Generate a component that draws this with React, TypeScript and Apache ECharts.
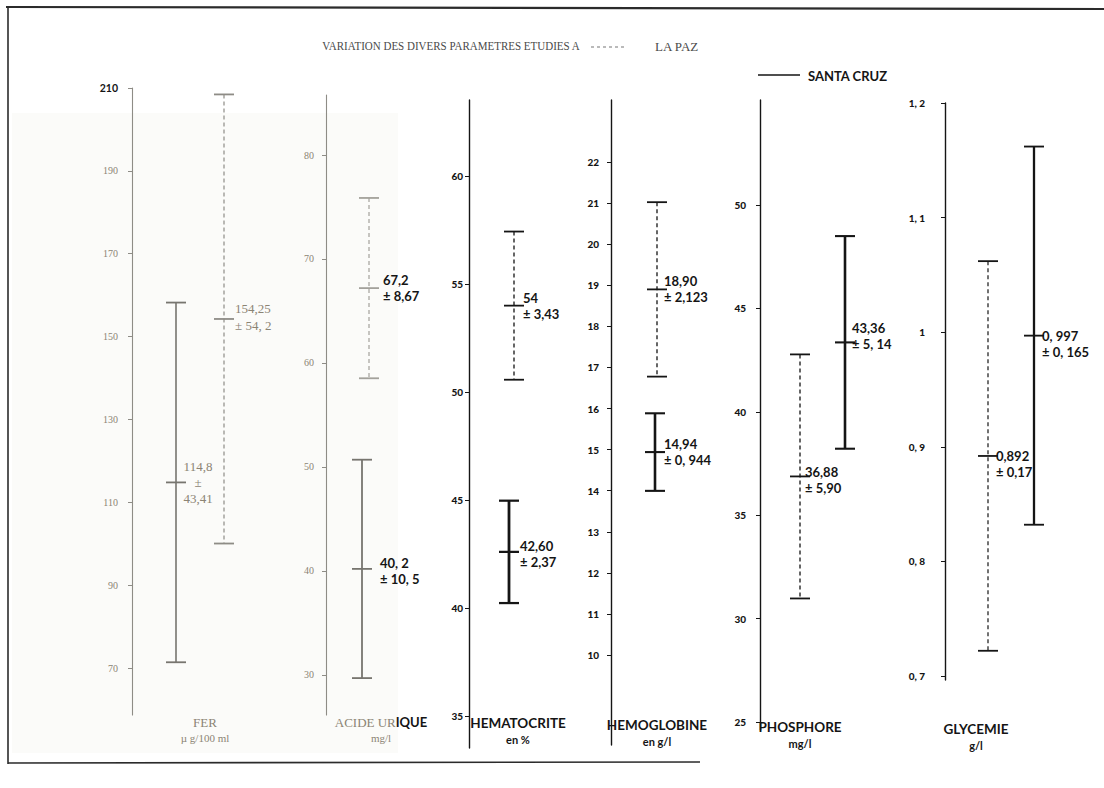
import React, { useEffect, useRef } from "react";
import * as echarts from "echarts";

// ---------- DATA ----------
const parameters = ["FER", "ACIDE URIQUE", "HEMATOCRITE", "HEMOGLOBINE", "PHOSPHORE", "GLYCEMIE"];
const unitsText = ["µ g/100 ml", "mg/l", "en %", "en g/l", "mg/l", "g/l"];
const laPazMean = [154.25, 67.2, 54, 18.9, 36.88, 0.892];
const laPazSD = [54.2, 8.67, 3.43, 2.123, 5.9, 0.17];
const santaCruzMean = [114.8, 40.2, 42.6, 14.94, 43.36, 0.997];
const santaCruzSD = [43.41, 10.5, 2.37, 0.944, 5.14, 0.165];
const laPazLabels = ["154,25\n± 54, 2", "67,2\n± 8,67", "54\n± 3,43", "18,90\n± 2,123", "36,88\n± 5,90", "0,892\n± 0,17"];
const santaCruzLabels = ["114,8\n±\n43,41", "40, 2\n± 10, 5", "42,60\n± 2,37", "14,94\n± 0, 944", "43,36\n± 5, 14", "0, 997\n± 0, 165"];
const tickValues = [
  [70, 90, 110, 130, 150, 170, 190, 210],
  [30, 40, 50, 60, 70, 80],
  [35, 40, 45, 50, 55, 60],
  [10, 11, 12, 13, 14, 15, 16, 17, 18, 19, 20, 21, 22],
  [25, 30, 35, 40, 45, 50],
  [0.7, 0.8, 0.9, 1.0, 1.1, 1.2],
];
const tickLabels = [
  ["70", "90", "110", "130", "150", "170", "190", "210"],
  ["30", "40", "50", "60", "70", "80"],
  ["35", "40", "45", "50", "55", "60"],
  ["10", "11", "12", "13", "14", "15", "16", "17", "18", "19", "20", "21", "22"],
  ["25", "30", "35", "40", "45", "50"],
  ["0, 7", "0, 8", "0, 9", "1", "1, 1", "1, 2"],
];
const titleText = "VARIATION DES DIVERS PARAMETRES ETUDIES A";
const legendNames = ["LA PAZ", "SANTA CRUZ"];

// ---------- LAYOUT / STYLE ----------
const GREY_TEXT = "#8b8474";
const GREY_LINE = "#8e8c86";
const BLACK = "#151515";
const SERIF = "'Liberation Serif', 'DejaVu Serif', serif";
const SANS = "Lato, 'Liberation Sans', sans-serif";

type Lab = { dx: number; dy: number; align: string; color: string; font: string; size: number; weight: string; lh: number };
type Panel = {
  axisX: number; top: number; bottom: number; min: number; max: number;
  lpX: number; scX: number; faded: boolean; margin: number;
  axisColor: string; lpColor: string; scColor: string; lpWidth: number; scWidth: number; cap: number;
  lpLab: Lab; scLab: Lab;
  titleX: number; titleY: number;
};

const blackLab = (dx: number, dy: number): Lab => ({ dx, dy, align: "left", color: BLACK, font: SANS, size: 13, weight: "bold", lh: 16 });

const panelsLayout: Panel[] = [
  {
    axisX: 132, top: 88, bottom: 715, min: 58.66, max: 210, lpX: 92, scX: 44, faded: true, margin: 14,
    axisColor: GREY_LINE, lpColor: GREY_LINE, scColor: "#77756f", lpWidth: 1.2, scWidth: 1.6, cap: 10,
    lpLab: { dx: 11, dy: -2, align: "left", color: GREY_TEXT, font: SERIF, size: 13, weight: "normal", lh: 17 },
    scLab: { dx: 22, dy: 0, align: "center", color: GREY_TEXT, font: SERIF, size: 13, weight: "normal", lh: 16 },
    titleX: 205, titleY: 722,
  },
  {
    axisX: 326, top: 95, bottom: 715, min: 26.15, max: 85.77, lpX: 43, scX: 36, faded: true, margin: 12,
    axisColor: GREY_LINE, lpColor: "#a3a19b", scColor: "#77756f", lpWidth: 1.2, scWidth: 1.8, cap: 10,
    lpLab: blackLab(14, 0), scLab: blackLab(18, 2),
    titleX: 381, titleY: 722,
  },
  {
    axisX: 469, top: 100, bottom: 748, min: 33.52, max: 63.52, lpX: 45, scX: 40, faded: false, margin: 6,
    axisColor: BLACK, lpColor: BLACK, scColor: BLACK, lpWidth: 1.3, scWidth: 2.8, cap: 10,
    lpLab: blackLab(9, 0), scLab: blackLab(11, 2),
    titleX: 518, titleY: 723,
  },
  {
    axisX: 611, top: 100, bottom: 745, min: 7.81, max: 23.51, lpX: 46, scX: 44, faded: false, margin: 12,
    axisColor: BLACK, lpColor: BLACK, scColor: BLACK, lpWidth: 1.3, scWidth: 2.6, cap: 10,
    lpLab: blackLab(7, 0), scLab: blackLab(9, 0),
    titleX: 657, titleY: 725,
  },
  {
    axisX: 760, top: 100, bottom: 730, min: 24.62, max: 55.08, lpX: 40, scX: 85, faded: false, margin: 14,
    axisColor: BLACK, lpColor: BLACK, scColor: BLACK, lpWidth: 1.3, scWidth: 2.6, cap: 10,
    lpLab: blackLab(5, 4), scLab: blackLab(7, -6),
    titleX: 800, titleY: 727,
  },
  {
    axisX: 945, top: 103, bottom: 680, min: 0.6965, max: 1.2, lpX: 43, scX: 89, faded: false, margin: 20,
    axisColor: BLACK, lpColor: BLACK, scColor: BLACK, lpWidth: 1.2, scWidth: 2.3, cap: 10,
    lpLab: blackLab(8, 8), scLab: blackLab(8, 8),
    titleX: 976, titleY: 729,
  },
];

function findLabel(i: number, v: number): string {
  const vals = tickValues[i];
  for (let k = 0; k < vals.length; k++) {
    if (Math.abs(vals[k] - v) < 1e-6) return tickLabels[i][k];
  }
  return "";
}

function makeRenderItem(p: Panel, isLaPaz: boolean, label: string) {
  return (params: any, api: any) => {
    const x = api.value(0);
    const m = api.value(1);
    const s = api.value(2);
    const top = api.coord([x, m + s]);
    const mid = api.coord([x, m]);
    const bot = api.coord([x, m - s]);
    const color = isLaPaz ? p.lpColor : p.scColor;
    const w = isLaPaz ? p.lpWidth : p.scWidth;
    const lineStyle: any = { stroke: color, lineWidth: w, lineDash: isLaPaz ? [4, 3] : null };
    const capStyle: any = { stroke: color, lineWidth: isLaPaz ? 1.8 : Math.max(1.8, w * 0.8) };
    const lab = isLaPaz ? p.lpLab : p.scLab;
    return {
      type: "group",
      children: [
        { type: "line", shape: { x1: top[0], y1: top[1], x2: bot[0], y2: bot[1] }, style: lineStyle },
        { type: "line", shape: { x1: top[0] - p.cap, y1: top[1], x2: top[0] + p.cap, y2: top[1] }, style: capStyle },
        { type: "line", shape: { x1: bot[0] - p.cap, y1: bot[1], x2: bot[0] + p.cap, y2: bot[1] }, style: capStyle },
        { type: "line", shape: { x1: mid[0] - p.cap, y1: mid[1], x2: mid[0] + p.cap, y2: mid[1] }, style: capStyle },
        {
          type: "text",
          x: mid[0] + lab.dx,
          y: mid[1] + lab.dy,
          style: {
            text: label,
            fill: lab.color,
            fontFamily: lab.font,
            fontSize: lab.size,
            fontWeight: lab.weight,
            lineHeight: lab.lh,
            align: lab.align,
            verticalAlign: "middle",
          },
        },
      ],
    };
  };
}

function buildOption() {
  const grid: any[] = [];
  const xAxis: any[] = [];
  const yAxis: any[] = [];
  const series: any[] = [];
  const graphic: any[] = [];

  // faded photocopy patch
  graphic.push({ type: "rect", z: -10, shape: { x: 12, y: 113, width: 386, height: 640 }, style: { fill: "#fbfbf9" } });

  panelsLayout.forEach((p, i) => {
    grid.push({ left: p.axisX, top: p.top, width: 140, height: p.bottom - p.top });
    xAxis.push({ type: "value", gridIndex: i, min: 0, max: 140, show: false });
    const labelColor = p.faded ? GREY_TEXT : BLACK;
    yAxis.push({
      type: "value",
      gridIndex: i,
      min: p.min,
      max: p.max,
      position: "left",
      splitLine: { show: false },
      axisLine: { show: true, lineStyle: { color: p.axisColor, width: p.faded ? 1.1 : 1.4 } },
      axisTick: { show: true, customValues: tickValues[i], length: 4, lineStyle: { color: p.axisColor, width: 1 } },
      axisLabel: {
        customValues: tickValues[i],
        margin: p.margin,
        formatter: (v: number) => {
          const s = findLabel(i, v);
          if (i === 0 && Math.abs(v - 210) < 1e-6) return "{b|" + s + "}";
          return "{n|" + s + "}";
        },
        rich: {
          b: { color: BLACK, fontFamily: SANS, fontWeight: "bold", fontSize: 10.5 },
          n: {
            color: labelColor,
            fontFamily: p.faded ? SERIF : SANS,
            fontWeight: p.faded ? "normal" : "900",
            fontSize: p.faded ? 10 : 10,
          },
        },
      },
    });
    series.push({
      type: "custom",
      name: legendNames[0],
      xAxisIndex: i,
      yAxisIndex: i,
      data: [[p.lpX, laPazMean[i], laPazSD[i]]],
      renderItem: makeRenderItem(p, true, laPazLabels[i]),
      silent: true,
    });
    series.push({
      type: "custom",
      name: legendNames[1],
      xAxisIndex: i,
      yAxisIndex: i,
      data: [[p.scX, santaCruzMean[i], santaCruzSD[i]]],
      renderItem: makeRenderItem(p, false, santaCruzLabels[i]),
      silent: true,
    });

    // panel titles
    let titleStyle: any;
    if (i === 0) {
      titleStyle = { text: parameters[i], fill: GREY_TEXT, fontFamily: SERIF, fontSize: 13 };
    } else if (i === 1) {
      titleStyle = {
        text: "{g|ACIDE UR}{b|IQUE}",
        rich: {
          g: { fill: GREY_TEXT, fontFamily: SERIF, fontSize: 13, color: GREY_TEXT },
          b: { fill: BLACK, fontFamily: SANS, fontSize: 13, fontWeight: "bold", color: BLACK },
        },
      };
    } else {
      titleStyle = { text: parameters[i], fill: BLACK, fontFamily: SANS, fontSize: 13.5, fontWeight: "bold" };
    }
    graphic.push({
      type: "text",
      x: p.titleX,
      y: p.titleY,
      style: { ...titleStyle, align: "center", verticalAlign: "middle" },
    });
    graphic.push({
      type: "text",
      x: p.titleX,
      y: p.titleY + 16,
      style: {
        text: unitsText[i],
        fill: p.faded ? GREY_TEXT : BLACK,
        fontFamily: p.faded ? SERIF : SANS,
        fontWeight: p.faded ? "normal" : "bold",
        fontSize: 11,
        align: "center",
        verticalAlign: "middle",
      },
    });
  });

  // frame
  graphic.push({ type: "line", shape: { x1: 6, y1: 7, x2: 1104, y2: 9 }, style: { stroke: "#2b2b2b", lineWidth: 2.2 } });
  graphic.push({ type: "line", shape: { x1: 8, y1: 7, x2: 8, y2: 764 }, style: { stroke: "#2b2b2b", lineWidth: 1.6 } });
  graphic.push({ type: "line", shape: { x1: 8, y1: 763, x2: 700, y2: 762 }, style: { stroke: "#2b2b2b", lineWidth: 1.6 } });

  // title + legend
  graphic.push({
    type: "text",
    x: 451,
    y: 46,
    style: { text: titleText, fill: "#4a4a4a", fontFamily: SERIF, fontSize: 12.5, align: "center", verticalAlign: "middle" },
    scaleX: 0.88,
  });
  graphic.push({ type: "line", shape: { x1: 591, y1: 47, x2: 625, y2: 47 }, style: { stroke: "#777", lineWidth: 1.2, lineDash: [3, 3] } });
  graphic.push({
    type: "text",
    x: 655,
    y: 46,
    style: { text: legendNames[0], fill: "#4a4a4a", fontFamily: SERIF, fontSize: 13, align: "left", verticalAlign: "middle" },
  });
  graphic.push({ type: "line", shape: { x1: 758, y1: 75, x2: 800, y2: 75 }, style: { stroke: BLACK, lineWidth: 1.6 } });
  graphic.push({
    type: "text",
    x: 808,
    y: 76,
    style: { text: legendNames[1], fill: BLACK, fontFamily: SANS, fontSize: 13, fontWeight: "bold", align: "left", verticalAlign: "middle" },
  });

  return {
    animation: false,
    backgroundColor: "#ffffff",
    grid,
    xAxis,
    yAxis,
    series,
    graphic,
  };
}

export default function App() {
  const ref = useRef<HTMLDivElement>(null);
  useEffect(() => {
    document.body.style.margin = "0";
    document.body.style.overflow = "hidden";
    if (!ref.current) return;
    const chart = echarts.init(ref.current, null, { renderer: "svg" });
    chart.setOption(buildOption() as any);
    return () => chart.dispose();
  }, []);
  return <div ref={ref} style={{ width: 1104, height: 788 }} />;
}
